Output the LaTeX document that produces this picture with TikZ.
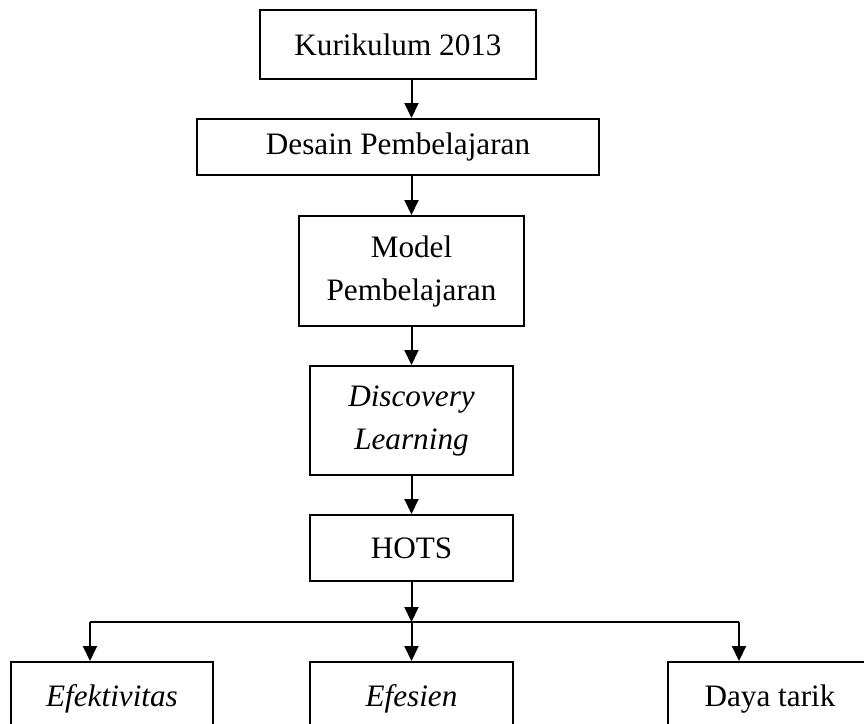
\documentclass[tikz,border=0pt]{standalone}
\usepackage{fontspec}
\setmainfont{Liberation Serif}
\usetikzlibrary{arrows.meta}
\begin{document}
\begin{tikzpicture}[x=0.5pt,y=-0.5pt,
  box/.style={draw,line width=1pt,inner sep=0pt,align=center,
    font=\fontsize{15.6}{21.5}\selectfont},
  arr/.style={line width=1pt,-{Triangle[width=7pt,length=7.5pt]}},
  ln/.style={line width=1pt}]
\useasboundingbox (0,0) rectangle (864,724);
\clip (0,0) rectangle (864,724);
\fill[white] (0,0) rectangle (864,724);
\node[box,minimum width=138pt,minimum height=34.5pt] (k) at (398,44.5) {Kurikulum 2013};
\node[box,minimum width=201pt,minimum height=28pt] (d) at (398,147) {Desain Pembelajaran};
\node[box,minimum width=112.5pt,minimum height=55pt] (m) at (411.5,271) {Model\\Pembelajaran};
\node[box,minimum width=101.5pt,minimum height=54.5pt] (dl) at (411.5,420.5) {\textit{Discovery}\\\textit{Learning}};
\node[box,minimum width=101.5pt,minimum height=33pt] (h) at (411.5,548) {HOTS};
\node[box,minimum width=101pt,minimum height=39pt] (e1) at (112,701) {\raisebox{5.5pt}{\textit{Efektivitas}}};
\node[box,minimum width=101.5pt,minimum height=39pt] (e2) at (411.5,701) {\raisebox{5.5pt}{\textit{Efesien}}};
\node[box,minimum width=102pt,minimum height=39pt] (e3) at (770,701) {\raisebox{5.5pt}{Daya tarik}};
\draw[arr] (k.south -| h.center) -- (d.north -| h.center);
\draw[arr] (d.south -| h.center) -- (m.north -| h.center);
\draw[arr] (m.south -| h.center) -- (dl.north -| h.center);
\draw[arr] (dl.south) -- (h.north);
\coordinate (j) at (411.5,622);
\coordinate (jl) at (90,622);
\coordinate (jr) at (739,622);
\draw[arr] (h.south) -- (j);
\draw[ln] (jl) -- (jr);
\draw[arr] (j) -- (e2.north);
\draw[arr] (jl) -- (jl |- e1.north);
\draw[arr] (jr) -- (jr |- e3.north);
\end{tikzpicture}
\end{document}
